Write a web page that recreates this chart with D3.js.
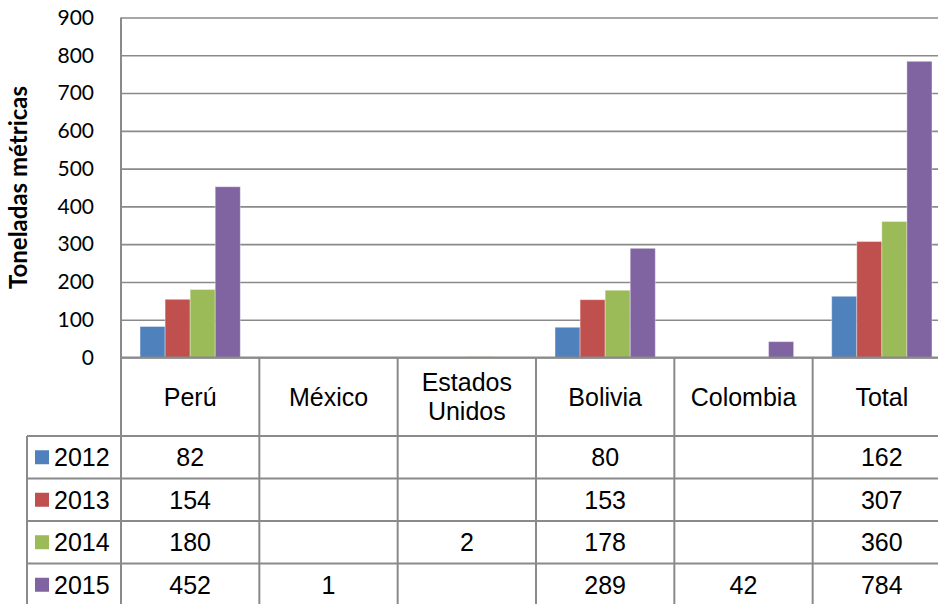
<!DOCTYPE html>
<html>
<head>
<meta charset="utf-8">
<script src="https://cdn.jsdelivr.net/npm/d3@7"></script>
<style>
  body { margin: 0; background: #fff; overflow: hidden; }
  svg { display: block; }
</style>
</head>
<body>
<div id="chart"></div>
<script>
const categories = ["Perú", "México", "Estados Unidos", "Bolivia", "Colombia", "Total"];
const years = ["2012", "2013", "2014", "2015"];
const values2012 = [82, null, null, 80, null, 162];
const values2013 = [154, null, null, 153, null, 307];
const values2014 = [180, null, 2, 178, null, 360];
const values2015 = [452, 1, null, 289, 42, 784];
const yTicks = [0, 100, 200, 300, 400, 500, 600, 700, 800, 900];
const yTitle = "Toneladas métricas";

const COLORS = ["#4f81bd", "#c0504d", "#9bbb59", "#8064a2"];
const GRID = "#8a8a8a";
const series = [values2012, values2013, values2014, values2015];

const width = 938;
const height = 604;
const plot = { left: 121, right: 951, top: 17.5, bottom: 357.5 };
const tableBottom = 606;
const headerBottom = 436;
const legendLeft = 27;

const svg = d3
  .select("#chart")
  .append("svg")
  .attr("width", width)
  .attr("height", height);

const x = d3
  .scaleBand()
  .domain(categories)
  .range([plot.left, plot.right]);

const x1 = d3
  .scaleBand()
  .domain(years)
  .range([0, x.bandwidth()])
  .paddingInner(0)
  .paddingOuter(0.76);

const y = d3
  .scaleLinear()
  .domain([0, 900])
  .range([plot.bottom, plot.top]);

const rows = d3
  .scaleBand()
  .domain(years)
  .range([headerBottom, tableBottom]);

// gridlines + tick labels
const yAxis = svg
  .append("g")
  .attr("transform", `translate(${plot.left},0)`)
  .call(
    d3.axisLeft(y)
      .tickValues(yTicks)
      .tickSize(-(plot.right - plot.left))
      .tickPadding(27)
  );
yAxis.select(".domain").remove();
yAxis.selectAll(".tick line")
  .attr("stroke", GRID)
  .attr("stroke-width", 1.6);
yAxis.selectAll(".tick text")
  .attr("font-family", "Lato, 'Open Sans', sans-serif")
  .attr("font-size", 21)
  .attr("fill", "#000");

// bars
const barData = [];
categories.forEach((c, i) => {
  years.forEach((yr, j) => {
    const v = series[j][i];
    if (v != null) barData.push({ cat: c, year: yr, value: v, idx: j });
  });
});

svg.append("g")
  .selectAll("rect")
  .data(barData)
  .enter()
  .append("rect")
  .attr("x", (d) => x(d.cat) + x1(d.year))
  .attr("y", (d) => y(d.value))
  .attr("width", x1.bandwidth())
  .attr("height", (d) => y(0) - y(d.value))
  .attr("fill", (d) => COLORS[d.idx])
  .attr("stroke", "rgba(255,255,255,0.35)")
  .attr("stroke-width", 1);

// table lines
const lines = svg.append("g")
  .attr("stroke", GRID)
  .attr("stroke-width", 2)
  .attr("fill", "none");

// zero line / header top
lines.append("line")
  .attr("x1", plot.left).attr("x2", plot.right)
  .attr("y1", y(0)).attr("y2", y(0));

// left border of plot and table
lines.append("line")
  .attr("x1", plot.left).attr("x2", plot.left)
  .attr("y1", plot.top).attr("y2", tableBottom);

// legend column border
lines.append("line")
  .attr("x1", legendLeft).attr("x2", legendLeft)
  .attr("y1", headerBottom).attr("y2", tableBottom);

// row separators
lines.selectAll(".row-line")
  .data(years)
  .enter()
  .append("line")
  .attr("class", "row-line")
  .attr("x1", legendLeft).attr("x2", plot.right)
  .attr("y1", (d) => rows(d)).attr("y2", (d) => rows(d));

// column dividers
lines.selectAll(".col-line")
  .data(categories)
  .enter()
  .append("line")
  .attr("class", "col-line")
  .attr("x1", (d) => x(d) + x.bandwidth())
  .attr("x2", (d) => x(d) + x.bandwidth())
  .attr("y1", y(0)).attr("y2", tableBottom);

const tableFont = "'Liberation Sans', Arial, sans-serif";

// category headers
const headerMid = (y(0) + headerBottom) / 2;
svg.append("g")
  .selectAll("text")
  .data(categories)
  .enter()
  .append("text")
  .attr("x", (d) => x(d) + x.bandwidth() / 2)
  .attr("y", headerMid)
  .attr("text-anchor", "middle")
  .attr("font-family", tableFont)
  .attr("font-size", 25)
  .each(function (d) {
    const words = d.split(" ");
    const t = d3.select(this);
    if (words.length === 1) {
      t.append("tspan").attr("dy", "0.35em").text(d);
    } else {
      words.forEach((w, k) => {
        t.append("tspan")
          .attr("x", x(d) + x.bandwidth() / 2)
          .attr("dy", k === 0 ? "-0.22em" : "1.14em")
          .text(w);
      });
    }
  });

// legend cells
const legend = svg.append("g")
  .selectAll("g")
  .data(years)
  .enter()
  .append("g")
  .attr("transform", (d) => `translate(0,${rows(d) + rows.bandwidth() / 2})`);

legend.append("rect")
  .attr("x", 35)
  .attr("y", -7)
  .attr("width", 14)
  .attr("height", 14)
  .attr("fill", (d, i) => COLORS[i]);

legend.append("text")
  .attr("x", 54)
  .attr("dy", "0.35em")
  .attr("font-family", tableFont)
  .attr("font-size", 25)
  .text((d) => d);

// value cells
svg.append("g")
  .selectAll("text")
  .data(barData)
  .enter()
  .append("text")
  .attr("x", (d) => x(d.cat) + x.bandwidth() / 2)
  .attr("y", (d) => rows(d.year) + rows.bandwidth() / 2)
  .attr("dy", "0.35em")
  .attr("text-anchor", "middle")
  .attr("font-family", tableFont)
  .attr("font-size", 25)
  .text((d) => d.value);

// y title
svg.append("text")
  .attr("transform", `translate(27,${(plot.top + plot.bottom) / 2}) rotate(-90)`)
  .attr("text-anchor", "middle")
  .attr("font-family", "Lato, 'Open Sans', sans-serif")
  .attr("font-weight", "bold")
  .attr("font-size", 24)
  .text(yTitle);
</script>
</body>
</html>
